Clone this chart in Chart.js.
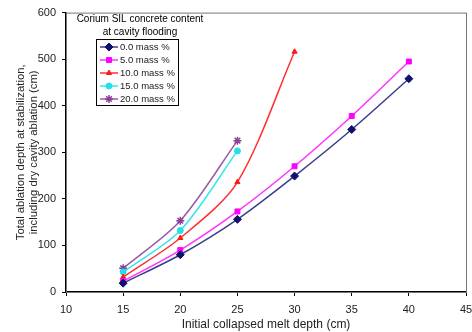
<!DOCTYPE html>
<html>
<head>
<meta charset="utf-8">
<script src="https://cdn.jsdelivr.net/npm/chart.js@4/dist/chart.umd.min.js"></script>
<style>
  html, body { margin: 0; padding: 0; background: #fff; }
  #wrap { width: 472px; height: 332px; position: relative; }
</style>
</head>
<body>
<div id="wrap"><canvas id="chart"></canvas></div>
<script>
const meltDepth = [15, 20, 25, 30, 35, 40]
const seriesLabels = ['0.0 mass %', '5.0 mass %', '10.0 mass %', '15.0 mass %', '20.0 mass %']
const mass0 = [19, 80, 156, 249, 349, 458]
const mass5 = [23, 90, 173, 270, 378, 495]
const mass10 = [32, 116, 236, 516]
const mass15 = [43, 132, 303]
const mass20 = [51, 153, 325]
const xTicks = [10, 15, 20, 25, 30, 35, 40, 45]
const yTicks = [0, 100, 200, 300, 400, 500, 600]

const colors = ['#10106e', '#ff00ff', '#ff1a1a', '#22e0e8', '#8a3f98']
const lineColors = ['#3a3f8c', '#ff33ff', '#ff3030', '#33e6ee', '#9a5aa8']
const styles = ['rectRot', 'rect', 'triangle', 'circle', 'star']
const radii = [4, 3.5, 3, 3, 4]
const allValues = [mass0, mass5, mass10, mass15, mass20]

function toPoints(values) {
  return values.map((v, i) => ({ x: meltDepth[i], y: v }))
}

const datasets = allValues.map((vals, i) => ({
  label: seriesLabels[i],
  data: toPoints(vals),
  borderColor: lineColors[i],
  backgroundColor: colors[i],
  pointBorderColor: colors[i],
  pointBackgroundColor: colors[i],
  pointStyle: styles[i],
  pointRadius: radii[i],
  pointBorderWidth: i === 4 ? 1.5 : 1,
  borderWidth: 1.5,
  tension: 0.3
}))

const FONT = '"Liberation Sans", Arial, sans-serif'

const framePlugin = {
  id: 'frame',
  beforeDatasetsDraw(chart) {
    const { ctx, chartArea: a } = chart
    ctx.save()
    ctx.strokeStyle = '#777'
    ctx.lineWidth = 1
    ctx.strokeRect(a.left + 0.5, a.top + 0.5, a.right - a.left, a.bottom - a.top)
    ctx.restore()
  }
}

const legendPlugin = {
  id: 'boxLegend',
  afterDraw(chart) {
    const ctx = chart.ctx
    ctx.save()
    ctx.fillStyle = '#000'
    ctx.font = '10px ' + FONT
    ctx.textAlign = 'center'
    ctx.textBaseline = 'middle'
    ctx.fillText('Corium SIL concrete content', 140, 19)
    ctx.fillText('at cavity flooding', 140, 32)
    ctx.strokeStyle = '#000'
    ctx.lineWidth = 1
    ctx.strokeRect(96.5, 39.5, 82, 66)
    ctx.textAlign = 'left'
    ctx.font = '9.5px ' + FONT
    chart.data.datasets.forEach((ds, i) => {
      const y = 47 + i * 13
      ctx.strokeStyle = ds.borderColor
      ctx.lineWidth = 1.5
      ctx.beginPath()
      ctx.moveTo(100, y)
      ctx.lineTo(118, y)
      ctx.stroke()
      ctx.fillStyle = ds.pointBackgroundColor
      ctx.strokeStyle = ds.pointBorderColor
      ctx.lineWidth = ds.pointBorderWidth
      Chart.helpers.drawPoint(ctx, { pointStyle: ds.pointStyle, radius: ds.pointRadius, borderWidth: ds.pointBorderWidth, rotation: 0 }, 109, y)
      ctx.fillStyle = '#222'
      ctx.fillText(ds.label, 120, y + 0.5)
    })
    ctx.restore()
  }
}

new Chart(document.getElementById('chart'), {
  type: 'line',
  data: { datasets: datasets },
  options: {
    responsive: true,
    maintainAspectRatio: false,
    animation: false,
    layout: { padding: { left: 14, right: 6, top: 12, bottom: 0 } },
    plugins: {
      legend: { display: false },
      tooltip: { enabled: false }
    },
    scales: {
      x: {
        type: 'linear',
        min: 10,
        max: 45,
        afterBuildTicks: s => { s.ticks = xTicks.map(v => ({ value: v })) },
        afterFit: s => { s.height = 40; s.paddingRight = 0 },
        grid: { display: true, drawOnChartArea: false, drawTicks: true, tickLength: 4, color: '#000' },
        border: { color: '#000', width: 1.5 },
        ticks: { color: '#222', font: { family: FONT, size: 11 }, padding: 7, maxRotation: 0 },
        title: { display: true, text: 'Initial collapsed melt depth (cm)', color: '#222', font: { family: FONT, size: 12 }, padding: { top: 0, bottom: 0 } }
      },
      y: {
        min: 0,
        max: 600,
        afterBuildTicks: s => { s.ticks = yTicks.map(v => ({ value: v })) },
        afterFit: s => { s.width = 52 },
        grid: { display: true, drawOnChartArea: false, drawTicks: true, tickLength: 4, color: '#000' },
        border: { color: '#000', width: 1.5 },
        ticks: { color: '#222', font: { family: FONT, size: 11 }, padding: 6 },
        title: {
          display: true,
          text: ['Total ablation depth at stabilization,', 'including dry cavity ablation (cm)'],
          color: '#222',
          font: { family: FONT, size: 11.3 },
          padding: { top: 0, bottom: 0 }
        }
      }
    }
  },
  plugins: [framePlugin, legendPlugin]
})
</script>
</body>
</html>
